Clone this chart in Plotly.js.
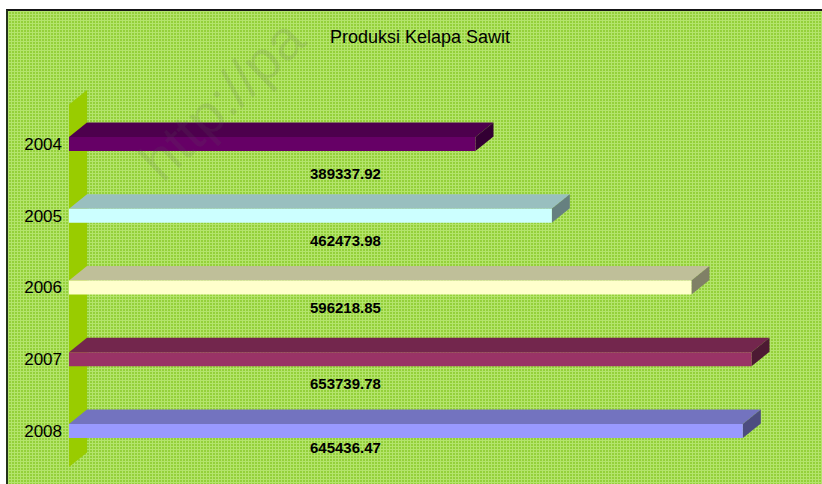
<!DOCTYPE html>
<html>
<head>
<meta charset="utf-8">
<script src="https://cdn.plot.ly/plotly-3.0.1.min.js"></script>
<style>
  html, body { margin: 0; padding: 0; background: #ffffff; width: 822px; height: 484px; overflow: hidden; }
  #bg {
    position: absolute; left: 6px; top: 9px; width: 816px; height: 475px;
    box-sizing: border-box;
    border-left: 2px solid #24331a; border-top: 2px solid #161616;
    background-color: #94d03a;
    background-image: linear-gradient(to right, #b4e46c 1px, transparent 1px),
                      linear-gradient(to bottom, #b4e46c 1px, transparent 1px);
    background-size: 3px 3px;
  }
  #chart { position: absolute; left: 0; top: 0; width: 822px; height: 484px; }
</style>
</head>
<body>
<div id="bg"></div>
<div id="chart"></div>
<script>
// ---- data ----
const years = ['2004', '2005', '2006', '2007', '2008'];
const production = [389337.92, 462473.98, 596218.85, 653739.78, 645436.47];
const chartTitle = 'Produksi Kelapa Sawit';
const watermark = 'http://pa';

// ---- styles ----
const frontColors = ['#660066', '#CCFFFF', '#FFFFCC', '#993366', '#9999FF'];
const topColors   = ['#4d004d', '#99bfbf', '#bfbf99', '#73264d', '#7373bf'];
const sideColors  = ['#330033', '#668080', '#808066', '#4d1a33', '#4d4d80'];
const wallColor = '#99cc00';
const labelOffsetPx = [29, 25, 20, 24, 16];

// ---- geometry (pixel layout) ----
const W = 822, H = 484, ML = 69;
const plotW = W - ML;
const pxPerValue = 0.001044;
const xmax = plotW / pxPerValue;
const pxPerCat = 71.75;
const firstCatPx = 144;
const yRange = [(H - firstCatPx) / pxPerCat, -firstCatPx / pxPerCat];
const half = 7 / pxPerCat;
const DX = 18 / pxPerValue;
const DY = 14.5 / pxPerCat;
const labelX = (345 - ML) / pxPerValue;

const traces = [];
// back wall
traces.push({
  type: 'scatter', mode: 'lines', fill: 'toself', fillcolor: wallColor,
  line: { width: 0, color: wallColor },
  x: [0, 0, DX, DX, 0],
  y: [years.length - 0.5, -0.55, -0.55 - DY, years.length - 0.5 - DY, years.length - 0.5],
  hoverinfo: 'skip', showlegend: false
});

production.forEach((v, i) => {
  const t = i - half, b = i + half;
  traces.push({
    type: 'scatter', mode: 'lines', fill: 'toself', fillcolor: topColors[i],
    line: { width: 0, color: topColors[i] },
    x: [0, v, v + DX, DX, 0], y: [t, t, t - DY, t - DY, t],
    hoverinfo: 'skip', showlegend: false
  });
  traces.push({
    type: 'scatter', mode: 'lines', fill: 'toself', fillcolor: sideColors[i],
    line: { width: 0, color: sideColors[i] },
    x: [v, v + DX, v + DX, v, v], y: [t, t - DY, b - DY, b, t],
    hoverinfo: 'skip', showlegend: false
  });
  traces.push({
    type: 'scatter', mode: 'lines', fill: 'toself', fillcolor: frontColors[i],
    line: { width: 0, color: frontColors[i] },
    x: [0, v, v, 0, 0], y: [t, t, b, b, t],
    name: years[i], hoverinfo: 'skip', showlegend: false
  });
});

const annotations = production.map((v, i) => ({
  x: labelX, y: i, xref: 'x', yref: 'y', yshift: -labelOffsetPx[i],
  text: v.toFixed(2), showarrow: false,
  font: { family: 'Liberation Sans, Arial, sans-serif', size: 15, color: '#000000', weight: 'bold' }
}));
annotations.push({
  xref: 'paper', yref: 'paper', x: (222 - ML) / plotW, y: 1 - 100 / H,
  xanchor: 'center', yanchor: 'middle', textangle: -44,
  text: watermark, showarrow: false,
  font: { family: 'Liberation Sans, Arial, sans-serif', size: 56, color: 'rgba(90,90,90,0.13)' }
});

const layout = {
  width: W, height: H,
  margin: { l: ML, r: 0, t: 0, b: 0, pad: 0 },
  paper_bgcolor: 'rgba(0,0,0,0)', plot_bgcolor: 'rgba(0,0,0,0)',
  showlegend: false,
  title: {
    text: chartTitle, xref: 'container', yref: 'container',
    x: 420 / W, y: 1 - 37 / H, xanchor: 'center', yanchor: 'middle',
    font: { family: 'Liberation Sans, Arial, sans-serif', size: 18, color: '#000000' }
  },
  xaxis: { range: [0, xmax], visible: false, fixedrange: true },
  yaxis: {
    range: yRange, tickmode: 'array', tickvals: years.map((_, i) => i), ticktext: years,
    showgrid: false, zeroline: false, showline: false, ticks: '', ticklabelstandoff: 6,
    tickfont: { family: 'Liberation Sans, Arial, sans-serif', size: 17, color: '#000000' },
    fixedrange: true
  },
  annotations: annotations
};

Plotly.newPlot('chart', traces, layout, { staticPlot: true, displayModeBar: false });
</script>
</body>
</html>
